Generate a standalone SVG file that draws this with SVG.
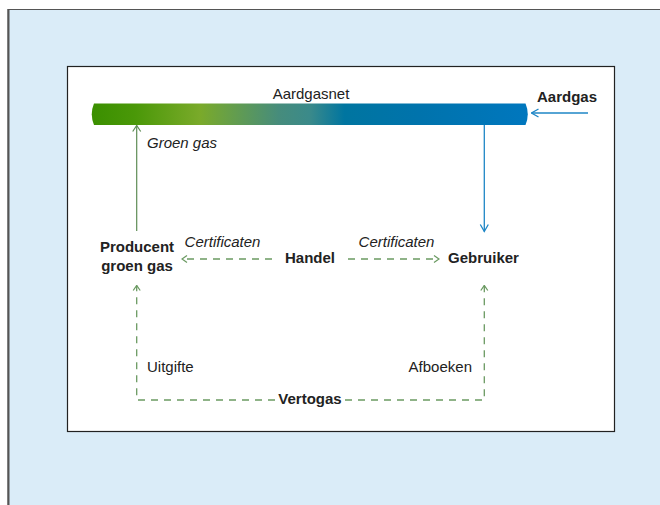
<svg xmlns="http://www.w3.org/2000/svg" width="660" height="505" viewBox="0 0 660 505">
<defs>
<linearGradient id="net" x1="91" y1="0" x2="528" y2="0" gradientUnits="userSpaceOnUse">
<stop offset="0" stop-color="#3A8F00"/>
<stop offset="0.1" stop-color="#4A9808"/>
<stop offset="0.25" stop-color="#7AAA2A"/>
<stop offset="0.43" stop-color="#468C7C"/>
<stop offset="0.5" stop-color="#3B8A8A"/>
<stop offset="0.58" stop-color="#0075A0"/>
<stop offset="0.75" stop-color="#0073AC"/>
<stop offset="1" stop-color="#0077BE"/>
</linearGradient>
<marker id="ahBlue" viewBox="0 0 10 10" refX="9" refY="5" markerWidth="10" markerHeight="10" markerUnits="userSpaceOnUse" orient="auto">
<path d="M2,1 L9,5 L2,9" fill="none" stroke="#1E86C6" stroke-width="1.3"/>
</marker>
<marker id="ahGreen" viewBox="0 0 10 10" refX="9" refY="5" markerWidth="10" markerHeight="10" markerUnits="userSpaceOnUse" orient="auto">
<path d="M3,1 L9,5 L3,9" fill="none" stroke="#5E8C55" stroke-width="1.2"/>
</marker>
<marker id="ahDash" viewBox="0 0 10 10" refX="9" refY="5" markerWidth="10" markerHeight="10" markerUnits="userSpaceOnUse" orient="auto">
<path d="M4,1.5 L9,5 L4,8.5" fill="none" stroke="#6B9A62" stroke-width="1.3"/>
</marker>
</defs>
<style>
text{font-family:"Liberation Sans",Arial,sans-serif;fill:#222;font-size:15px}
.b{font-weight:bold}
.i{font-style:italic}
.dash{fill:none;stroke:#6B9A62;stroke-width:1.3;stroke-dasharray:7 6}
</style>
<rect x="8" y="9.5" width="670" height="520" fill="#DAECF8" stroke="#555" stroke-width="1"/>
<line x1="8.5" y1="9" x2="8.5" y2="505" stroke="#555" stroke-width="2"/>
<rect x="67.5" y="66.5" width="547" height="365" fill="#fff" stroke="#222" stroke-width="1.2"/>
<g id="aardgasnet">
<path d="M94,103.5 L525.5,103.5 Q530,114.2 525.5,125 L94,125 Q89.5,114.2 94,103.5 Z" fill="url(#net)"/>
<text x="311" y="99" text-anchor="middle">Aardgasnet</text>
</g>
<g id="aardgas"><text class="b" x="567" y="102" text-anchor="middle">Aardgas</text></g>
<g id="producent"><text class="b" x="137" y="252" text-anchor="middle">Producent</text><text class="b" x="137" y="271" text-anchor="middle">groen gas</text></g>
<g id="handel"><text class="b" x="310" y="263" text-anchor="middle">Handel</text></g>
<g id="gebruiker"><text class="b" x="483.5" y="263" text-anchor="middle">Gebruiker</text></g>
<g id="vertogas"><text class="b" x="310" y="404" text-anchor="middle">Vertogas</text></g>
<g id="connectors">
<line x1="588" y1="113" x2="531.5" y2="113" stroke="#1E86C6" stroke-width="1.3" marker-end="url(#ahBlue)"/>
<line x1="484.3" y1="125" x2="484.3" y2="231.5" stroke="#1E86C6" stroke-width="1.3" marker-end="url(#ahBlue)"/>
<line x1="136.7" y1="231" x2="136.7" y2="125.5" stroke="#5E8C55" stroke-width="1.2" marker-end="url(#ahGreen)"/>
<line class="dash" x1="272" y1="259" x2="182" y2="259" marker-end="url(#ahDash)"/>
<line class="dash" x1="348" y1="259" x2="439" y2="259" marker-end="url(#ahDash)"/>
<path class="dash" d="M275,400 L136.7,400 L136.7,285.5" marker-end="url(#ahDash)"/>
<path class="dash" d="M345,400 L484.3,400 L484.3,285.5" marker-end="url(#ahDash)"/>
<text class="i" x="147" y="148">Groen gas</text>
<text class="i" x="222.5" y="246.5" text-anchor="middle">Certificaten</text>
<text class="i" x="396.5" y="246.5" text-anchor="middle">Certificaten</text>
<text x="147" y="372">Uitgifte</text>
<text x="472" y="372" text-anchor="end">Afboeken</text>
</g>
</svg>
